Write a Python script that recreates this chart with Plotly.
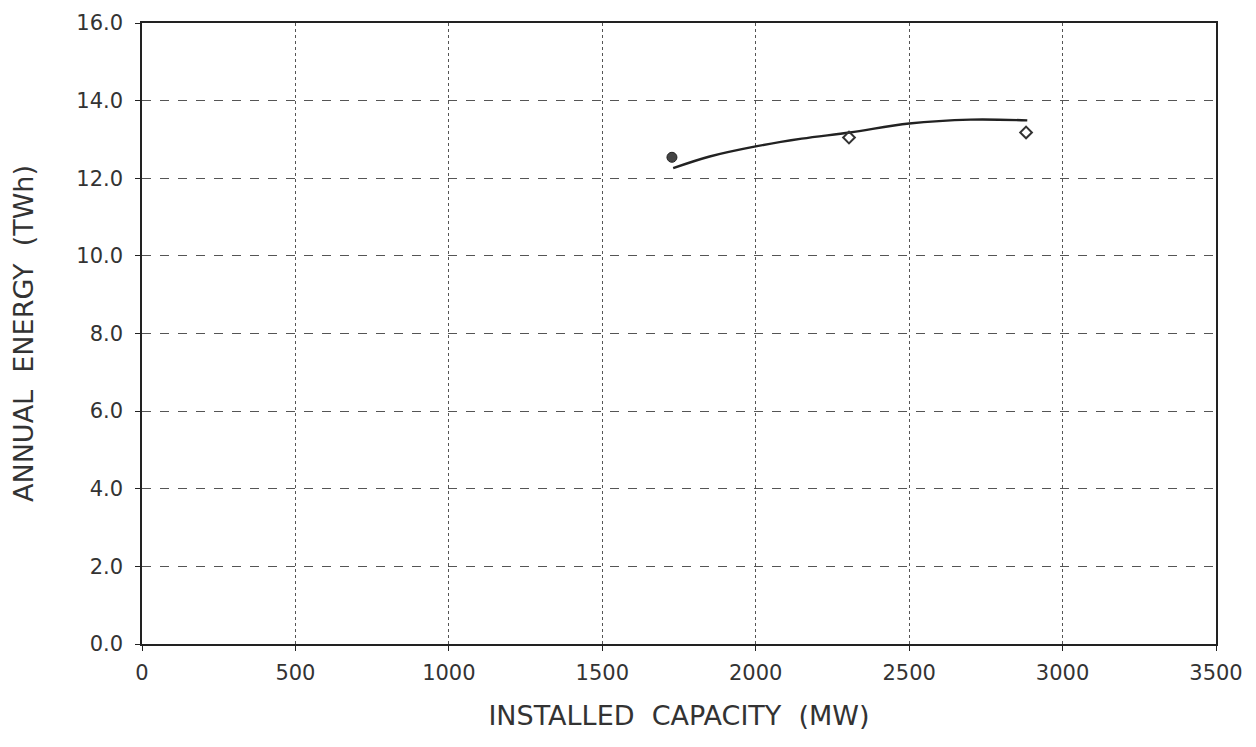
import plotly.graph_objects as go

# Observed points
pt_x = [1727, 2304, 2881]
pt_y = [12.54, 13.05, 13.18]

# Fitted curve
curve_x = [1731, 1850, 2000, 2150, 2307, 2500, 2700, 2885]
curve_y = [12.26, 12.56, 12.82, 13.02, 13.18, 13.41, 13.51, 13.49]

x_ticks = [0, 500, 1000, 1500, 2000, 2500, 3000, 3500]
y_ticks = [0, 2, 4, 6, 8, 10, 12, 14, 16]

fig = go.Figure()
fig.add_trace(go.Scatter(
    x=curve_x, y=curve_y, mode="lines", line=dict(color="#222222", width=2.4, shape="spline"),
    showlegend=False, hoverinfo="skip"))
fig.add_trace(go.Scatter(
    x=pt_x[:1], y=pt_y[:1], mode="markers",
    marker=dict(symbol="circle", size=10, color="#444444", line=dict(color="#222222", width=1)),
    showlegend=False))
fig.add_trace(go.Scatter(
    x=pt_x[1:], y=pt_y[1:], mode="markers",
    marker=dict(symbol="diamond-open", size=9, color="#333333", line=dict(width=2)),
    showlegend=False))

font = dict(family="DejaVu Sans, Liberation Sans, sans-serif", color="#333333")

fig.update_layout(
    width=1256, height=747,
    margin=dict(l=134, r=48, t=15, b=111),
    paper_bgcolor="white", plot_bgcolor="white",
    font=font,
    xaxis=dict(
        range=[0, 3500], tickvals=x_ticks, ticktext=[str(v) for v in x_ticks],
        showgrid=True, gridcolor="#555555", griddash="dot", gridwidth=1,
        showline=True, linecolor="#222222", linewidth=1.5, mirror=True,
        ticks="outside", ticklen=5, tickcolor="#222222", ticklabelstandoff=4,
        tickfont=dict(size=21, **font), zeroline=False, automargin=False,
        ticklabeloverflow="allow",
        title=dict(text="INSTALLED  CAPACITY  (MW)", font=dict(size=27, **font), standoff=22),
    ),
    yaxis=dict(
        range=[0, 16], tickvals=y_ticks, ticktext=[f"{v:.1f}" for v in y_ticks],
        showgrid=True, gridcolor="#555555", griddash="dash", gridwidth=1,
        showline=True, linecolor="#222222", linewidth=1.5, mirror=True,
        ticks="outside", ticklen=5, tickcolor="#222222", ticklabelstandoff=8,
        tickfont=dict(size=21, **font), zeroline=False, automargin=False,
        ticklabeloverflow="allow",
        title=dict(text="ANNUAL  ENERGY  (TWh)", font=dict(size=27, **font), standoff=40),
    ),
)

fig.write_html("out.html")
